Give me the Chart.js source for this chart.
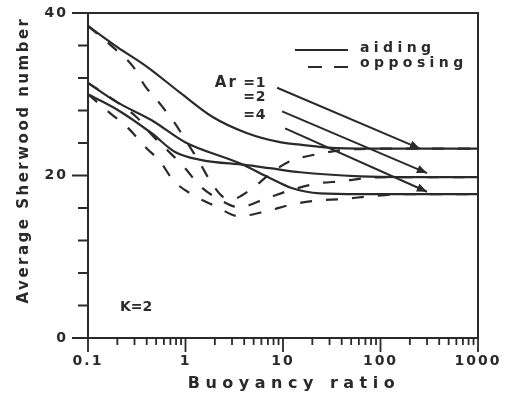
<!DOCTYPE html>
<html>
<head>
<meta charset="utf-8">
<script src="https://cdn.jsdelivr.net/npm/chart.js@4/dist/chart.umd.min.js"></script>
<style>
  html, body { margin: 0; background: #fff; }
</style>
</head>
<body>
<canvas id="graph" width="516" height="398"></canvas>
<script>
// values: buoyancy ratio (x, log) vs average Sherwood number (y)
const ar1AidX = [0.1, 0.2, 0.4, 0.88, 1.9, 4.3, 9.3, 15, 32, 99, 1000];
const ar1AidY = [38.4, 35.8, 33.4, 30.2, 27.2, 25.2, 24.1, 23.8, 23.4, 23.3, 23.3];
const ar2AidX = [0.1, 0.2, 0.45, 0.78, 1.47, 4.1, 7.3, 15, 62, 160, 1000];
const ar2AidY = [30.0, 28.1, 25.2, 22.9, 21.9, 21.3, 20.9, 20.4, 19.9, 19.8, 19.8];
const ar4AidX = [0.1, 0.2, 0.45, 0.99, 3.6, 7.3, 12, 24, 62, 1000];
const ar4AidY = [31.4, 29.0, 26.8, 24.1, 21.5, 19.7, 18.5, 17.8, 17.7, 17.7];

const ar1OppX = [0.1, 0.18, 0.29, 0.38, 0.55, 0.76, 1.06, 1.41, 1.8, 2.4, 3, 4.7, 7.7, 12, 22, 39, 100, 1000];
const ar1OppY = [38.4, 35.8, 33.4, 31.1, 28.8, 26.6, 23.9, 21.5, 19.3, 17.4, 17.1, 18.3, 20.4, 21.8, 22.6, 23.1, 23.3, 23.3];
const ar2OppX = [0.1, 0.2, 0.32, 0.46, 0.68, 0.99, 1.41, 2.27, 3.5, 6.8, 12, 22, 40, 74, 160, 1000];
const ar2OppY = [31.4, 29.0, 27.1, 24.9, 22.9, 20.9, 18.7, 17.0, 16.1, 17.2, 18.2, 19.0, 19.3, 19.7, 19.8, 19.8];
const ar4OppX = [0.1, 0.16, 0.26, 0.38, 0.55, 0.75, 1.19, 2.05, 3.5, 6.7, 12, 22, 40, 74, 160, 1000];
const ar4OppY = [30.0, 27.9, 25.8, 23.6, 21.7, 19.4, 17.6, 16.2, 15.0, 15.6, 16.4, 16.9, 17.1, 17.4, 17.7, 17.7];

const xTickLabels = [0.1, 1, 10, 100, 1000];
const yTickLabels = [0, 20, 40];

// annotation arrows (data coords): from the "Ar" labels to the curves
const arrowFromX = [8.7, 9.8, 10.5];
const arrowFromY = [30.8, 27.9, 25.8];
const arrowToX = [254, 300, 300];
const arrowToY = [23.3, 20.3, 18.0];

const ink = '#2a2a2a';
const font = 'DejaVu Sans';

function pts(xs, ys) {
    return xs.map((x, i) => ({x: x, y: ys[i]}));
}

function curve(label, xs, ys, dashed) {
    return {
        label: label,
        data: pts(xs, ys),
        borderColor: ink,
        borderWidth: 2.2,
        borderDash: dashed ? [12, 14] : [],
        pointRadius: 0,
        cubicInterpolationMode: 'monotone',
        fill: false
    };
}

// minor ticks 1..9 in every decade
let logTicks = [];
for (let d = 0.1; d < 1000; d *= 10) {
    for (let m = 1; m < 10; m++) logTicks.push(Number((m * d).toPrecision(3)));
}
logTicks.push(1000);

function arrow(ctx, x0, y0, x1, y1) {
    const ang = Math.atan2(y1 - y0, x1 - x0);
    ctx.beginPath();
    ctx.moveTo(x0, y0);
    ctx.lineTo(x1, y1);
    ctx.stroke();
    ctx.beginPath();
    ctx.moveTo(x1, y1);
    ctx.lineTo(x1 - 11 * Math.cos(ang - 0.4), y1 - 11 * Math.sin(ang - 0.4));
    ctx.lineTo(x1 - 11 * Math.cos(ang + 0.4), y1 - 11 * Math.sin(ang + 0.4));
    ctx.closePath();
    ctx.fill();
}

function text(ctx, str, x, y, size, spacing, align) {
    ctx.font = 'bold ' + size + 'px "' + font + '"';
    ctx.letterSpacing = spacing + 'px';
    ctx.textAlign = align || 'left';
    ctx.textBaseline = 'middle';
    ctx.fillText(str, x, y);
}

const decorations = {
    id: 'decorations',
    beforeDraw(chart) {
        chart.ctx.letterSpacing = '2px';
    },
    afterDraw(chart) {
        const ctx = chart.ctx;
        const a = chart.chartArea;
        const x = chart.scales.x;
        const y = chart.scales.y;
        ctx.save();
        ctx.strokeStyle = ink;
        ctx.fillStyle = ink;

        // top and right frame
        ctx.lineWidth = 2;
        ctx.beginPath();
        ctx.moveTo(a.left, a.top);
        ctx.lineTo(a.right, a.top);
        ctx.lineTo(a.right, a.bottom);
        ctx.stroke();

        // tick marks: long at labelled values, short elsewhere
        ctx.lineWidth = 1.8;
        ctx.beginPath();
        x.ticks.forEach(t => {
            const px = x.getPixelForValue(t.value);
            ctx.moveTo(px, a.bottom);
            ctx.lineTo(px, a.bottom + (xTickLabels.includes(t.value) ? 14 : 7));
        });
        y.ticks.forEach(t => {
            const py = y.getPixelForValue(t.value);
            ctx.moveTo(a.left - (yTickLabels.includes(t.value) ? 16 : 10), py);
            ctx.lineTo(a.left, py);
        });
        ctx.stroke();

        // arrows
        ctx.lineWidth = 2;
        for (let i = 0; i < arrowFromX.length; i++) {
            arrow(ctx, x.getPixelForValue(arrowFromX[i]), y.getPixelForValue(arrowFromY[i]),
                x.getPixelForValue(arrowToX[i]), y.getPixelForValue(arrowToY[i]));
        }

        // legend
        const lx = a.right - 183;
        ctx.lineWidth = 2.2;
        ctx.beginPath();
        ctx.moveTo(lx, a.top + 37);
        ctx.lineTo(lx + 53, a.top + 37);
        ctx.stroke();
        ctx.setLineDash([14, 12]);
        ctx.beginPath();
        ctx.moveTo(lx + 13, a.top + 54);
        ctx.lineTo(lx + 53, a.top + 54);
        ctx.stroke();
        ctx.setLineDash([]);
        text(ctx, 'aiding', a.right - 118, a.top + 35, 14, 4.4);
        text(ctx, 'opposing', a.right - 118, a.top + 50, 14, 4.4);

        // Ar labels and K
        text(ctx, 'Ar', x.getPixelForValue(2.0), y.getPixelForValue(31.4), 15, 2);
        text(ctx, '=1', x.getPixelForValue(3.9), y.getPixelForValue(31.4), 14, 1);
        text(ctx, '=2', x.getPixelForValue(3.9), y.getPixelForValue(29.6), 14, 1);
        text(ctx, '=4', x.getPixelForValue(3.9), y.getPixelForValue(27.4), 14, 1);
        text(ctx, 'K=2', x.getPixelForValue(0.213), y.getPixelForValue(3.8), 14, 0);

        // axis titles
        text(ctx, 'Buoyancy ratio', (a.left + a.right) / 2 + 11, 384, 16, 5.5, 'center');
        ctx.translate(24, 160);
        ctx.rotate(-Math.PI / 2);
        text(ctx, 'Average Sherwood number', 0, 0, 15, 2.5, 'center');
        ctx.restore();
        ctx.letterSpacing = '0px';
    }
};

new Chart(document.getElementById('graph'), {
    type: 'line',
    data: {
        datasets: [
            curve('Ar=1 aiding', ar1AidX, ar1AidY, false),
            curve('Ar=2 aiding', ar2AidX, ar2AidY, false),
            curve('Ar=4 aiding', ar4AidX, ar4AidY, false),
            curve('Ar=1 opposing', ar1OppX, ar1OppY, true),
            curve('Ar=2 opposing', ar2OppX, ar2OppY, true),
            curve('Ar=4 opposing', ar4OppX, ar4OppY, true)
        ]
    },
    options: {
        responsive: false,
        animation: false,
        layout: {padding: {top: 13, right: 38, left: 0, bottom: 0}},
        plugins: {legend: {display: false}, tooltip: {enabled: false}},
        scales: {
            x: {
                type: 'logarithmic',
                min: 0.1,
                max: 1000,
                afterBuildTicks: s => { s.ticks = logTicks.map(v => ({value: v})); },
                afterFit: s => { s.height = 60; },
                ticks: {
                    autoSkip: false,
                    maxRotation: 0,
                    padding: 8,
                    color: ink,
                    font: {family: font, size: 14, weight: 'bold'},
                    callback: v => xTickLabels.includes(v) ? String(v) : ''
                },
                grid: {drawOnChartArea: false, tickLength: 7, tickColor: 'rgba(0,0,0,0)'},
                border: {color: ink, width: 2}
            },
            y: {
                min: 0,
                max: 40,
                afterFit: s => { s.width = 88; },
                ticks: {
                    stepSize: 2,
                    padding: 3,
                    color: ink,
                    font: {family: font, size: 14, weight: 'bold'},
                    callback: v => yTickLabels.includes(v) ? String(v) : ''
                },
                grid: {drawOnChartArea: false, tickLength: 17, tickColor: 'rgba(0,0,0,0)'},
                border: {color: ink, width: 2}
            }
        }
    },
    plugins: [decorations]
});
</script>
</body>
</html>
